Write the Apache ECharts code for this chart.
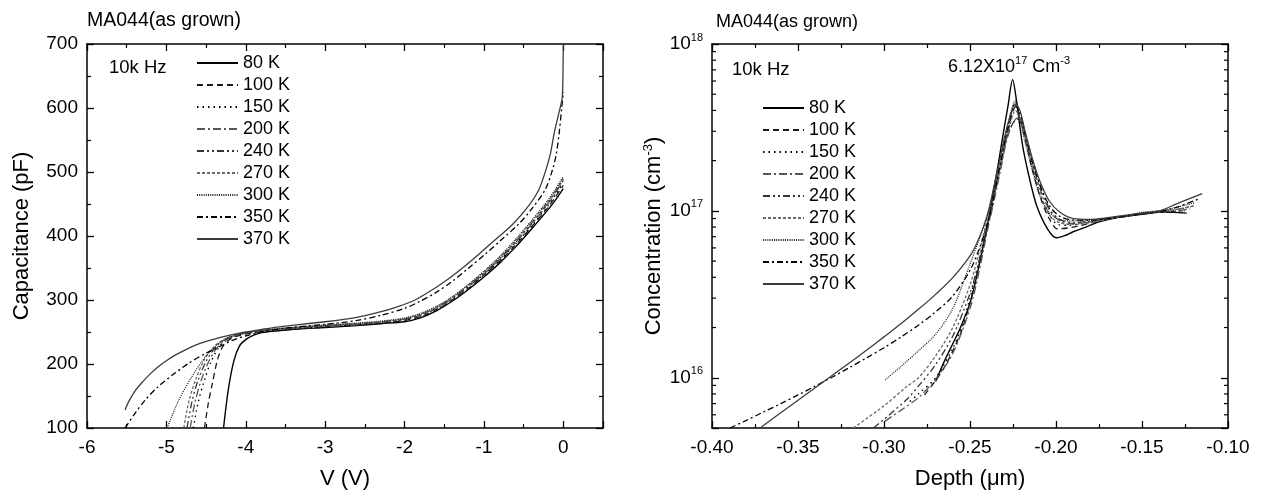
<!DOCTYPE html>
<html>
<head>
<meta charset="utf-8">
<script src="https://cdn.jsdelivr.net/npm/echarts@6/dist/echarts.min.js"></script>
<style>
  html, body { margin: 0; padding: 0; background: #fff; }
  #chart { width: 1266px; height: 500px; }
</style>
</head>
<body>
<div id="chart"></div>
<script>
// ---- temperatures (legend order) ----
const tempNames = ['80 K', '100 K', '150 K', '200 K', '240 K', '270 K', '300 K', '350 K', '370 K'];

// ---- C-V curves at 10 kHz: [bias V, capacitance pF] ----
const cv80K = [[-4.28,100],[-4.22,160],[-4.15,205],[-4.08,228],[-4.0,238],[-3.9,245],[-3.8,249],[-3.5,253],[-3.0,257],[-2.6,260],[-2.3,263],[-2.0,266],[-1.8,272],[-1.6,283],[-1.4,298],[-1.2,316],[-1.0,336],[-0.8,358],[-0.6,383],[-0.4,411],[-0.2,440],[-0.1,456],[0,474]];
const cv100K = [[-4.52,100],[-4.47,140],[-4.42,170],[-4.36,205],[-4.3,225],[-4.22,237],[-4.1,244],[-3.9,249],[-3.5,253],[-3.0,258],[-2.6,261],[-2.3,264],[-2.0,268],[-1.8,274],[-1.6,285],[-1.4,300],[-1.2,318],[-1.0,339],[-0.8,361],[-0.6,386],[-0.4,414],[-0.2,444],[-0.1,461],[0,479]];
const cv150K = [[-4.66,100],[-4.6,140],[-4.52,175],[-4.44,203],[-4.35,224],[-4.25,237],[-4.1,245],[-3.9,250],[-3.5,254],[-3.0,259],[-2.6,262],[-2.3,265],[-2.0,269],[-1.8,275],[-1.6,286],[-1.4,301],[-1.2,320],[-1.0,340],[-0.8,362],[-0.6,388],[-0.4,416],[-0.2,446],[-0.1,464],[0,483]];
const cv200K = [[-4.70,100],[-4.64,140],[-4.56,175],[-4.47,203],[-4.37,224],[-4.26,237],[-4.1,245],[-3.9,250],[-3.5,255],[-3.0,259],[-2.6,262],[-2.3,265],[-2.0,270],[-1.8,276],[-1.6,287],[-1.4,302],[-1.2,321],[-1.0,341],[-0.8,364],[-0.6,390],[-0.4,418],[-0.2,449],[-0.1,467],[0,487]];
const cv240K = [[-4.74,100],[-4.68,140],[-4.60,175],[-4.50,204],[-4.39,225],[-4.27,238],[-4.1,246],[-3.9,251],[-3.5,255],[-3.0,260],[-2.6,263],[-2.3,266],[-2.0,270],[-1.8,277],[-1.6,288],[-1.4,303],[-1.2,322],[-1.0,342],[-0.8,365],[-0.6,391],[-0.4,420],[-0.2,451],[-0.1,469],[0,489]];
const cv270K = [[-4.78,100],[-4.72,140],[-4.63,176],[-4.53,205],[-4.41,226],[-4.28,238],[-4.1,246],[-3.9,251],[-3.5,256],[-3.0,260],[-2.6,263],[-2.3,266],[-2.0,271],[-1.8,278],[-1.6,289],[-1.4,304],[-1.2,323],[-1.0,344],[-0.8,367],[-0.6,393],[-0.4,422],[-0.2,453],[-0.1,471],[0,491]];
const cv300K = [[-4.99,100],[-4.85,142],[-4.68,180],[-4.51,211],[-4.34,232],[-4.17,243],[-4.0,249],[-3.7,254],[-3.3,258],[-3.0,261],[-2.6,264],[-2.3,267],[-2.0,272],[-1.8,279],[-1.6,290],[-1.4,305],[-1.2,324],[-1.0,345],[-0.8,368],[-0.6,395],[-0.4,424],[-0.2,455],[-0.1,473],[0,493]];
const cv350K = [[-5.52,100],[-5.4,122],[-5.265,144],[-5.1,165],[-4.9,185],[-4.72,201],[-4.5,217],[-4.3,229],[-4.17,237],[-4.0,244],[-3.8,250],[-3.5,256],[-3.0,262],[-2.6,268],[-2.3,276],[-2.0,287],[-1.82,297],[-1.6,312],[-1.4,329],[-1.2,349],[-0.98,372],[-0.78,394],[-0.56,419],[-0.4,442],[-0.23,472],[-0.14,502],[-0.09,527],[-0.053,560],[-0.02,600],[0,625]];
const cv370K = [[-5.52,128],[-5.48,140],[-5.4,157],[-5.3,172],[-5.2,185],[-5.1,196],[-5.0,205],[-4.9,213],[-4.76,222],[-4.6,231],[-4.42,238],[-4.2,245],[-4.0,250],[-3.8,254],[-3.58,258],[-3.0,266],[-2.6,273],[-2.32,281],[-2.1,289],[-1.9,298],[-1.7,312],[-1.48,330],[-1.25,352],[-1.06,372],[-0.85,395],[-0.64,418],[-0.45,445],[-0.31,472],[-0.22,503],[-0.16,530],[-0.116,560],[-0.06,590],[-0.015,615],[-0.005,650],[0,700]];

// ---- carrier profiles: [depth um, concentration cm^-3] ----
const n80K = [[-0.270,9.5e15],[-0.265,1.25e16],[-0.260,1.6e16],[-0.256,1.95e16],[-0.250,2.8e16],[-0.246,4.1e16],[-0.242,6.4e16],[-0.2374,1.15e17],[-0.234,1.8e17],[-0.2306,2.93e17],[-0.228,4.2e17],[-0.2252,6.12e17],[-0.223,4.6e17],[-0.221,3.2e17],[-0.219,2.33e17],[-0.215,1.5e17],[-0.2112,1.07e17],[-0.207,8.5e16],[-0.203,7.3e16],[-0.1996,6.9e16],[-0.195,7.1e16],[-0.190,7.5e16],[-0.184,7.9e16],[-0.175,8.6e16],[-0.165,9.1e16],[-0.155,9.4e16],[-0.145,9.7e16],[-0.140,9.85e16],[-0.132,9.8e16],[-0.124,9.7e16]];
const n100K = [[-0.2765,7.9e15],[-0.270,9.6e15],[-0.265,1.15e16],[-0.260,1.45e16],[-0.255,1.9e16],[-0.250,2.8e16],[-0.245,4.6e16],[-0.240,7.8e16],[-0.236,1.2e17],[-0.232,1.9e17],[-0.228,3.0e17],[-0.2235,4.2e17],[-0.221,3.6e17],[-0.218,2.7e17],[-0.214,1.8e17],[-0.209,1.2e17],[-0.204,9.0e16],[-0.199,7.8e16],[-0.193,7.9e16],[-0.185,8.2e16],[-0.175,8.7e16],[-0.165,9.1e16],[-0.155,9.4e16],[-0.145,9.7e16],[-0.135,9.9e16],[-0.126,9.8e16]];
const n150K = [[-0.285,7.2e15],[-0.280,8.0e15],[-0.270,1.0e16],[-0.260,1.5e16],[-0.255,2.0e16],[-0.250,3.0e16],[-0.245,4.9e16],[-0.240,8.2e16],[-0.236,1.25e17],[-0.232,1.95e17],[-0.228,3.1e17],[-0.2235,4.5e17],[-0.221,3.8e17],[-0.218,2.8e17],[-0.214,1.85e17],[-0.209,1.25e17],[-0.204,9.5e16],[-0.199,8.3e16],[-0.193,8.2e16],[-0.185,8.4e16],[-0.175,8.8e16],[-0.165,9.2e16],[-0.155,9.5e16],[-0.145,9.7e16],[-0.135,9.9e16],[-0.125,1.0e17]];
const n200K = [[-0.2994,5.5e15],[-0.290,6.4e15],[-0.280,7.6e15],[-0.270,9.8e15],[-0.260,1.4e16],[-0.250,2.6e16],[-0.245,4.2e16],[-0.240,7.5e16],[-0.236,1.15e17],[-0.232,1.8e17],[-0.228,2.8e17],[-0.2225,3.6e17],[-0.220,3.3e17],[-0.217,2.6e17],[-0.213,1.8e17],[-0.208,1.25e17],[-0.203,9.8e16],[-0.197,8.6e16],[-0.190,8.4e16],[-0.180,8.6e16],[-0.170,9.0e16],[-0.160,9.3e16],[-0.150,9.6e16],[-0.140,9.8e16],[-0.130,1.0e17],[-0.122,1.03e17]];
const n240K = [[-0.306,5.0e15],[-0.2868,7.4e15],[-0.280,8.9e15],[-0.270,1.2e16],[-0.260,1.78e16],[-0.250,3.2e16],[-0.245,4.9e16],[-0.240,8.3e16],[-0.236,1.25e17],[-0.232,1.95e17],[-0.228,2.9e17],[-0.2225,3.55e17],[-0.2205,3.4e17],[-0.217,2.7e17],[-0.213,1.9e17],[-0.208,1.3e17],[-0.203,1.0e17],[-0.197,8.8e16],[-0.190,8.5e16],[-0.180,8.7e16],[-0.170,9.0e16],[-0.160,9.3e16],[-0.150,9.6e16],[-0.140,9.9e16],[-0.130,1.02e17],[-0.120,1.07e17]];
const n270K = [[-0.3178,5.0e15],[-0.300,6.8e15],[-0.2868,8.85e15],[-0.280,1.0e16],[-0.270,1.35e16],[-0.260,2.0e16],[-0.250,3.6e16],[-0.245,5.5e16],[-0.240,8.9e16],[-0.236,1.26e17],[-0.232,1.9e17],[-0.228,2.9e17],[-0.2235,4.0e17],[-0.2215,3.7e17],[-0.218,2.75e17],[-0.214,1.9e17],[-0.209,1.26e17],[-0.204,9.5e16],[-0.198,8.5e16],[-0.190,8.3e16],[-0.180,8.5e16],[-0.170,8.9e16],[-0.160,9.3e16],[-0.150,9.7e16],[-0.140,1.0e17],[-0.130,1.02e17],[-0.120,1.07e17]];
const n300K = [[-0.2994,9.7e15],[-0.290,1.17e16],[-0.280,1.45e16],[-0.270,1.82e16],[-0.260,2.6e16],[-0.250,4.8e16],[-0.245,6.6e16],[-0.240,9.5e16],[-0.236,1.35e17],[-0.232,2.1e17],[-0.228,3.3e17],[-0.2235,4.6e17],[-0.221,3.55e17],[-0.218,2.6e17],[-0.214,1.8e17],[-0.209,1.2e17],[-0.204,9.8e16],[-0.198,8.9e16],[-0.190,8.7e16],[-0.180,8.8e16],[-0.170,9.0e16],[-0.160,9.3e16],[-0.150,9.8e16],[-0.140,1.0e17],[-0.130,1.05e17],[-0.119,1.12e17]];
const n350K = [[-0.3895,5.0e15],[-0.380,5.56e15],[-0.370,6.24e15],[-0.360,7.0e15],[-0.350,7.89e15],[-0.340,8.91e15],[-0.330,1.01e16],[-0.320,1.153e16],[-0.310,1.318e16],[-0.300,1.514e16],[-0.290,1.758e16],[-0.280,2.065e16],[-0.270,2.483e16],[-0.260,3.09e16],[-0.250,4.4e16],[-0.245,5.8e16],[-0.240,8.3e16],[-0.236,1.25e17],[-0.232,2.0e17],[-0.228,3.16e17],[-0.224,4.27e17],[-0.221,3.9e17],[-0.218,2.9e17],[-0.214,2.0e17],[-0.209,1.4e17],[-0.204,1.08e17],[-0.198,9.3e16],[-0.190,8.8e16],[-0.180,8.8e16],[-0.170,9.0e16],[-0.160,9.3e16],[-0.150,9.6e16],[-0.140,9.9e16],[-0.130,1.05e17],[-0.117,1.18e17]];
const n370K = [[-0.372,5.0e15],[-0.360,6.17e15],[-0.350,7.33e15],[-0.340,8.71e15],[-0.330,1.035e16],[-0.320,1.23e16],[-0.310,1.466e16],[-0.300,1.758e16],[-0.290,2.113e16],[-0.280,2.57e16],[-0.270,3.16e16],[-0.260,3.98e16],[-0.250,5.37e16],[-0.245,6.76e16],[-0.240,9.33e16],[-0.236,1.41e17],[-0.232,2.19e17],[-0.228,3.31e17],[-0.2235,4.37e17],[-0.221,4.0e17],[-0.218,3.0e17],[-0.214,2.1e17],[-0.2093,1.5e17],[-0.204,1.15e17],[-0.1977,9.8e16],[-0.190,9.0e16],[-0.180,8.9e16],[-0.170,9.1e16],[-0.160,9.4e16],[-0.150,9.7e16],[-0.140,1.0e17],[-0.130,1.1e17],[-0.115,1.27e17]];

const cvSets = [cv80K, cv100K, cv150K, cv200K, cv240K, cv270K, cv300K, cv350K, cv370K];
const profileSets = [n80K, n100K, n150K, n200K, n240K, n270K, n300K, n350K, n370K];

// ---- axis ranges and tick values ----
const vRange = [-6, 0.5];
const capRange = [100, 700];
const depthRange = [-0.40, -0.10];
const concRange = [5e15, 1e18];
const minorLogTicks = [6e15, 7e15, 8e15, 9e15,
  2e16, 3e16, 4e16, 5e16, 6e16, 7e16, 8e16, 9e16,
  2e17, 3e17, 4e17, 5e17, 6e17, 7e17, 8e17, 9e17];

// ---- line styles per temperature ----
const lineLooks = [
  { color: '#000000', type: 'solid', width: 1.4 },
  { color: '#1a1a1a', type: [6, 4], width: 1.3 },
  { color: '#000000', type: [1.5, 4], width: 1.4 },
  { color: '#555555', type: [8, 3, 2, 3], width: 1.3 },
  { color: '#333333', type: [7, 3, 2, 3, 2, 3], width: 1.3 },
  { color: '#6a6a6a', type: [3, 2], width: 1.3 },
  { color: '#222222', type: [1, 1.2], width: 1.3 },
  { color: '#000000', type: [6, 3, 2, 3], width: 1.3 },
  { color: '#3c3c3c', type: 'solid', width: 1.3 }
];

const FONT = "'Liberation Sans', Arial, Helvetica, sans-serif";

function lineSeries(name, data, look, xi, yi) {
  return {
    type: 'line', name: name, data: data,
    xAxisIndex: xi, yAxisIndex: yi,
    symbol: 'none', smooth: 0.3, clip: true,
    lineStyle: { color: look.color, type: look.type, width: look.width },
    itemStyle: { color: look.color },
    emphasis: { disabled: true }
  };
}

const series = [];
tempNames.forEach((n, i) => series.push(lineSeries(n, cvSets[i], lineLooks[i], 0, 0)));
tempNames.forEach((n, i) => series.push(lineSeries(n, profileSets[i], lineLooks[i], 2, 2)));

// short inward minor ticks on both sides of the log axis
series.push({
  type: 'custom', name: 'logMinorTicks', silent: true,
  xAxisIndex: 2, yAxisIndex: 2,
  data: minorLogTicks.map(v => [depthRange[0], v]),
  renderItem: function (params, api) {
    const v = api.value(1);
    const a = api.coord([depthRange[0], v]);
    const b = api.coord([depthRange[1], v]);
    return {
      type: 'group', children: [
        { type: 'line', shape: { x1: a[0], y1: a[1], x2: a[0] + 4, y2: a[1] }, style: { stroke: '#000', lineWidth: 1.2 } },
        { type: 'line', shape: { x1: b[0] - 4, y1: b[1], x2: b[0], y2: b[1] }, style: { stroke: '#000', lineWidth: 1.2 } }
      ]
    };
  }
});

const axisLineStyle = { show: true, onZero: false, lineStyle: { color: '#000', width: 1.5 } };
const majorTick = { show: true, inside: true, length: 7, lineStyle: { color: '#000', width: 1.3 } };
const minorTick = { show: true, splitNumber: 2, length: 4, lineStyle: { color: '#000', width: 1.2 } };
const tickFont = { color: '#000', fontFamily: FONT, fontSize: 19 };
const nameFont = { color: '#000', fontFamily: FONT, fontSize: 22 };

function logLabel(v) {
  const p = Math.log10(v);
  const e = Math.round(p);
  if (Math.abs(p - e) > 1e-6) return '';
  return '{b|10}{s|' + e + '}';
}

const legendBase = {
  data: tempNames, orient: 'vertical', padding: 0,
  itemWidth: 41, itemHeight: 10, itemGap: 0, selectedMode: false,
  itemStyle: { opacity: 0, borderWidth: 0 },
  textStyle: { color: '#000', fontFamily: FONT, fontSize: 18, lineHeight: 22 }
};

const option = {
  animation: false,
  backgroundColor: '#ffffff',
  grid: [
    { left: 87, top: 44, width: 516, height: 384 },
    { left: 712, top: 44, width: 516, height: 384 }
  ],
  xAxis: [
    {
      gridIndex: 0, type: 'value', position: 'bottom',
      min: vRange[0], max: vRange[1], interval: 1,
      name: 'V (V)', nameLocation: 'middle', nameGap: 40, nameTextStyle: nameFont,
      axisLine: axisLineStyle, axisTick: majorTick, minorTick: minorTick,
      splitLine: { show: false },
      axisLabel: Object.assign({ margin: 10, showMaxLabel: false, formatter: v => String(v) }, tickFont)
    },
    {
      gridIndex: 0, type: 'value', position: 'top',
      min: vRange[0], max: vRange[1], interval: 1,
      axisLine: axisLineStyle, axisTick: majorTick, minorTick: minorTick,
      splitLine: { show: false }, axisLabel: { show: false }
    },
    {
      gridIndex: 1, type: 'value', position: 'bottom',
      min: depthRange[0], max: depthRange[1], interval: 0.05,
      name: 'Depth (\u03bcm)', nameLocation: 'middle', nameGap: 40, nameTextStyle: nameFont,
      axisLine: axisLineStyle, axisTick: majorTick, minorTick: minorTick,
      splitLine: { show: false },
      axisLabel: Object.assign({ margin: 10, formatter: v => v.toFixed(2) }, tickFont)
    },
    {
      gridIndex: 1, type: 'value', position: 'top',
      min: depthRange[0], max: depthRange[1], interval: 0.05,
      axisLine: axisLineStyle, axisTick: majorTick, minorTick: minorTick,
      splitLine: { show: false }, axisLabel: { show: false }
    }
  ],
  yAxis: [
    {
      gridIndex: 0, type: 'value', position: 'left',
      min: capRange[0], max: capRange[1], interval: 100,
      name: 'Capacitance (pF)', nameLocation: 'middle', nameGap: 54, nameTextStyle: nameFont,
      axisLine: axisLineStyle, axisTick: majorTick, minorTick: minorTick,
      splitLine: { show: false },
      axisLabel: Object.assign({ margin: 9 }, tickFont)
    },
    {
      gridIndex: 0, type: 'value', position: 'right',
      min: capRange[0], max: capRange[1], interval: 100,
      axisLine: axisLineStyle, axisTick: majorTick, minorTick: minorTick,
      splitLine: { show: false }, axisLabel: { show: false }
    },
    {
      gridIndex: 1, type: 'log', logBase: 10, position: 'left',
      min: concRange[0], max: concRange[1],
      name: '{t|Concentration (cm}{u|-3}{t|)}', nameLocation: 'middle', nameGap: 46,
      nameTextStyle: {
        color: '#000', fontFamily: FONT, fontSize: 22,
        rich: {
          t: { fontFamily: FONT, fontSize: 22, lineHeight: 24, color: '#000' },
          u: { fontFamily: FONT, fontSize: 13, lineHeight: 13, verticalAlign: 'top', color: '#000' }
        }
      },
      axisLine: axisLineStyle, axisTick: majorTick,
      splitLine: { show: false },
      axisLabel: {
        margin: 9, formatter: logLabel, color: '#000', fontFamily: FONT, fontSize: 19,
        rich: {
          b: { fontFamily: FONT, fontSize: 19, lineHeight: 24, color: '#000' },
          s: { fontFamily: FONT, fontSize: 11, lineHeight: 12, verticalAlign: 'top', color: '#000' }
        }
      }
    },
    {
      gridIndex: 1, type: 'log', logBase: 10, position: 'right',
      min: concRange[0], max: concRange[1],
      axisLine: axisLineStyle, axisTick: majorTick,
      splitLine: { show: false }, axisLabel: { show: false }
    }
  ],
  legend: [
    Object.assign({ left: 196, top: 52 }, legendBase),
    Object.assign({ left: 762, top: 97 }, legendBase)
  ],
  graphic: [
    { type: 'text', x: 87, y: 21, style: { text: 'MA044(as grown)', fill: '#000', font: '19.5px ' + FONT, align: 'left', verticalAlign: 'middle' } },
    { type: 'text', x: 716, y: 22, style: { text: 'MA044(as grown)', fill: '#000', font: '18px ' + FONT, align: 'left', verticalAlign: 'middle' } },
    { type: 'text', x: 109, y: 68, style: { text: '10k Hz', fill: '#000', font: '18.5px ' + FONT, align: 'left', verticalAlign: 'middle' } },
    { type: 'text', x: 732, y: 70, style: { text: '10k Hz', fill: '#000', font: '18.5px ' + FONT, align: 'left', verticalAlign: 'middle' } },
    {
      type: 'text', x: 948, y: 67,
      style: {
        text: '{a|6.12X10}{s|17}{a| Cm}{s|-3}', align: 'left', verticalAlign: 'middle',
        rich: {
          a: { fontFamily: FONT, fontSize: 18, lineHeight: 24, fill: '#000', color: '#000' },
          s: { fontFamily: FONT, fontSize: 11, lineHeight: 12, verticalAlign: 'top', fill: '#000', color: '#000' }
        }
      }
    }
  ],
  series: series
};

const chart = echarts.init(document.getElementById('chart'), null, { renderer: 'canvas' });
chart.setOption(option);
</script>
</body>
</html>
